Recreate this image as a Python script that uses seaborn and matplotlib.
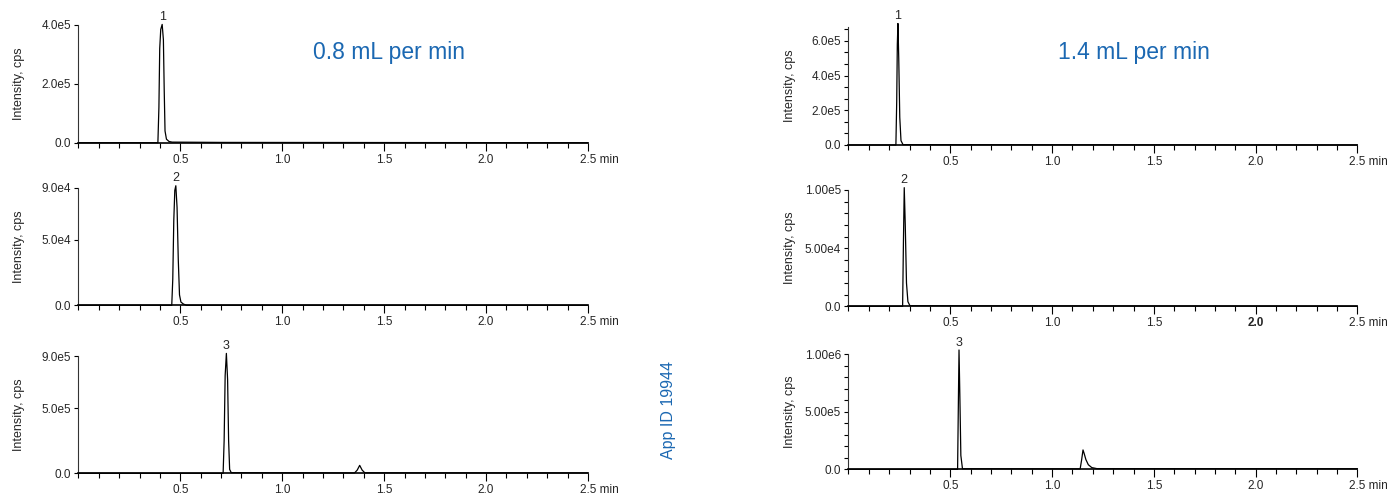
import matplotlib
matplotlib.use("Agg")
import matplotlib.pyplot as plt
import matplotlib.transforms as mtransforms
from matplotlib.ticker import MultipleLocator, FixedLocator
import seaborn as sns

# chromatogram traces (time in min, intensity in cps)
t_08_1 = [0.0, 0.390, 0.395, 0.399, 0.404, 0.411, 0.417, 0.421, 0.425, 0.432, 0.445, 0.46, 0.70, 2.5]
i_08_1 = [0, 0, 1.2e5, 3.2e5, 3.85e5, 4.02e5, 3.5e5, 1.8e5, 0.4e5, 1.2e4, 4e3, 2e3, 1e3, 0]

t_08_2 = [0.0, 0.458, 0.463, 0.468, 0.473, 0.478, 0.484, 0.490, 0.496, 0.503, 0.515, 0.53, 2.5]
i_08_2 = [0, 0, 2.0e4, 6.5e4, 8.8e4, 9.15e4, 7.5e4, 3.5e4, 8e3, 2.5e3, 1e3, 0, 0]

t_08_3 = [0.0, 0.710, 0.715, 0.720, 0.726, 0.732, 0.737, 0.742, 0.75, 1.355, 1.368, 1.380, 1.392, 1.405, 2.5]
i_08_3 = [0, 0, 2.5e5, 7.5e5, 9.2e5, 7.2e5, 2.5e5, 3e4, 5e3, 3e3, 2.5e4, 6.1e4, 2.5e4, 4e3, 3e3]

t_14_1 = [0.0, 0.233, 0.237, 0.240, 0.243, 0.247, 0.252, 0.258, 0.268, 2.5]
i_14_1 = [0, 0, 2.5e5, 5.8e5, 7.0e5, 5.0e5, 1.6e5, 2.5e4, 2e3, 0]

t_14_2 = [0.0, 0.266, 0.270, 0.274, 0.279, 0.285, 0.292, 0.302, 2.5]
i_14_2 = [0, 0, 5.5e4, 1.02e5, 7.0e4, 2.0e4, 4e3, 5e2, 0]

t_14_3 = [0.0, 0.536, 0.540, 0.543, 0.547, 0.552, 0.560, 1.138, 1.145, 1.152, 1.158, 1.166, 1.178, 1.195, 1.22, 2.5]
i_14_3 = [0, 0, 6.0e5, 1.035e6, 6.5e5, 1.2e5, 5e3, 4e3, 8e4, 1.68e5, 1.35e5, 8.5e4, 4.0e4, 1.5e4, 6e3, 5e3]

peak_names = ["1", "2", "3"]
peak_times_08 = [0.411, 0.478, 0.726]
peak_heights_08 = [4.02e5, 9.15e4, 9.2e5]
peak_times_14 = [0.243, 0.274, 0.543]
peak_heights_14 = [7.0e5, 1.02e5, 1.035e6]

yticks_08 = [[0, 2e5, 4e5], [0, 5e4, 9e4], [0, 5e5, 9e5]]
ylabels_08 = [["0.0", "2.0e5", "4.0e5"], ["0.0", "5.0e4", "9.0e4"], ["0.0", "5.0e5", "9.0e5"]]
ytop_08 = [4.0e5, 9.0e4, 9.0e5]

yticks_14 = [[0, 2e5, 4e5, 6e5], [0, 5e4, 1e5], [0, 5e5, 1e6]]
ylabels_14 = [["0.0", "2.0e5", "4.0e5", "6.0e5"], ["0.0", "5.00e4", "1.00e5"], ["0.0", "5.00e5", "1.00e6"]]
yminor_14 = [2e5 / 3, 1e4, 1e5]
ytop_14 = [6.8e5, 1.0e5, 1.0e6]

xticks = [0.5, 1.0, 1.5, 2.0, 2.5]
xticklabels = ["0.5", "1.0", "1.5", "2.0", "2.5 min"]

BLUE = "#1b68b2"
TICK_FS = 8.5

sns.set_theme(style="ticks")
plt.rcParams["font.family"] = ["Liberation Sans", "DejaVu Sans"]

fig = plt.figure(figsize=(13.9, 4.95), dpi=100)

left_pos = [(0.0564, 0.7117, 0.3666, 0.2378),
            (0.0564, 0.3832, 0.3666, 0.2376),
            (0.0564, 0.0438, 0.3666, 0.2370)]
right_pos = [(0.6104, 0.7071, 0.3662, 0.2384),
             (0.6104, 0.3812, 0.3662, 0.2350),
             (0.6104, 0.0519, 0.3662, 0.2329)]


def style_axes(ax, yticks, ylabels, ytop, yminor=None):
    ax.set_xlim(0, 2.5)
    ax.set_ylim(0, ytop)
    ax.spines["top"].set_visible(False)
    ax.spines["right"].set_visible(False)
    ax.spines["left"].set_linewidth(0.8)
    ax.spines["bottom"].set_linewidth(1.2)
    ax.spines["left"].set_color("#333333")
    ax.spines["bottom"].set_color("black")
    ax.xaxis.set_major_locator(FixedLocator(xticks))
    ax.set_xticklabels(xticklabels)
    ax.xaxis.set_minor_locator(MultipleLocator(0.1))
    ax.set_yticks(yticks)
    ax.set_yticklabels(ylabels)
    if yminor:
        ax.yaxis.set_minor_locator(MultipleLocator(yminor))
    ax.tick_params(axis="x", which="major", direction="out", length=5.5, width=0.8,
                   labelsize=TICK_FS, pad=2.5, color="black")
    ax.tick_params(axis="x", which="minor", direction="out", length=3.6, width=0.8, color="black")
    ax.tick_params(axis="y", which="both", direction="out", length=2.8, width=0.8,
                   labelsize=TICK_FS, pad=2.5, color="black")
    # "2.5 min": keep the number over its tick, unit trailing to the right
    lab = ax.get_xticklabels()[-1]
    lab.set_horizontalalignment("left")
    shift = mtransforms.ScaledTranslation(-8 / 100, 0, fig.dpi_scale_trans)
    lab.set_transform(lab.get_transform() + shift)
    ax.set_ylabel("Intensity, cps", fontsize=9)
    ax.yaxis.set_label_coords(-53 / 510, 0.5)
    ax.set_xlabel("")


traces_08 = [(t_08_1, i_08_1), (t_08_2, i_08_2), (t_08_3, i_08_3)]
traces_14 = [(t_14_1, i_14_1), (t_14_2, i_14_2), (t_14_3, i_14_3)]

axes_14 = []
for k in range(3):
    ax = fig.add_axes(left_pos[k])
    t, y = traces_08[k]
    sns.lineplot(x=t, y=y, ax=ax, color="black", lw=0.9, estimator=None, sort=False, clip_on=False)
    style_axes(ax, yticks_08[k], ylabels_08[k], ytop_08[k])
    ax.annotate(peak_names[k], (peak_times_08[k], peak_heights_08[k]), xytext=(0, 1),
                textcoords="offset points", ha="center", va="bottom", fontsize=9,
                annotation_clip=False)

    ax = fig.add_axes(right_pos[k])
    t, y = traces_14[k]
    sns.lineplot(x=t, y=y, ax=ax, color="black", lw=0.9, estimator=None, sort=False, clip_on=False)
    style_axes(ax, yticks_14[k], ylabels_14[k], ytop_14[k], yminor_14[k])
    ax.annotate(peak_names[k], (peak_times_14[k], peak_heights_14[k]), xytext=(0, 1),
                textcoords="offset points", ha="center", va="bottom", fontsize=9,
                annotation_clip=False)
    axes_14.append(ax)

# the 2.0 label in the middle right panel is bold in the original
axes_14[1].get_xticklabels()[3].set_fontweight("bold")

fig.text(389 / 1390, 1 - 52 / 495, "0.8 mL per min", color=BLUE, fontsize=16.5,
         ha="center", va="center")
fig.text(1134 / 1390, 1 - 52 / 495, "1.4 mL per min", color=BLUE, fontsize=16.5,
         ha="center", va="center")
fig.text(668 / 1390, 1 - 410 / 495, "App ID 19944", color=BLUE, fontsize=11.5,
         rotation=90, ha="center", va="center")

fig.savefig("out.png", dpi=100)
